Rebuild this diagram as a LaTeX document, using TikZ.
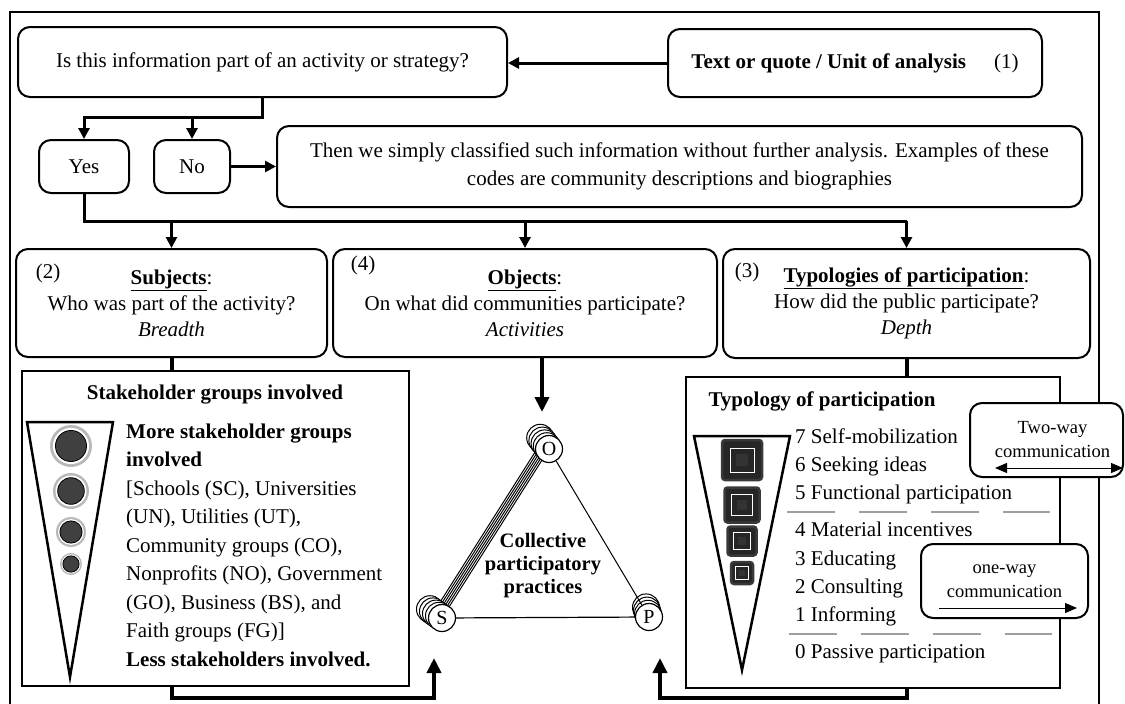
\documentclass[tikz,border=0pt]{standalone}
\usepackage{fontspec}
\setmainfont{Liberation Serif}
\usetikzlibrary{arrows.meta}

\begin{document}
\begin{tikzpicture}[x=1pt,y=-1pt,
    font=\fontsize{21}{26}\selectfont,
    roundbox/.style={draw,line width=2pt,rounded corners=12pt,fill=white,align=center,inner sep=0pt},
    plainbox/.style={draw,line width=1.2pt,fill=white,inner sep=0pt},
    commbox/.style={roundbox,font=\fontsize{18.5}{24}\selectfont},
    conn/.style={line width=3pt,-{Triangle[length=11pt,width=11pt]}},
    thickconn/.style={line width=4pt,-{Triangle[length=15pt,width=14pt]}},
    vertex/.style={circle,draw,line width=1.2pt,fill=white,minimum size=27pt,inner sep=0pt,font=\fontsize{20}{20}\selectfont},
    listtext/.style={anchor=base west,inner sep=0pt},
    level/.style={draw=gray!75,line width=1.2pt,dash pattern=on 48pt off 24pt}]
    \useasboundingbox (0,0) rectangle (1125,704);
    \draw[line width=1.5pt] (10,712) -- (10,12) -- (1099,12) -- (1099,712);

    \node[roundbox,minimum width=489pt,minimum height=70pt] (isbox) at (262.5,62) {Is this information part of an activity or strategy?};
    \node[roundbox,minimum width=374pt,minimum height=68pt] (unitbox) at (855,63) {\textbf{Text or quote / Unit of analysis}\hspace{28pt}(1)};
    \node[roundbox,minimum width=90pt,minimum height=53pt] (yes) at (84,166.5) {Yes};
    \node[roundbox,minimum width=76pt,minimum height=53pt] (no) at (192,166.5) {No};
    \node[roundbox,minimum width=805pt,minimum height=81pt,font=\fontsize{21}{28}\selectfont] (note) at (679.5,166.5)
        {Then we simply classified such information without further analysis. Examples of these\\codes are community descriptions and biographies};

    \node[roundbox,minimum width=311pt,minimum height=108pt] (subj) at (171.5,303)
        {\underline{\textbf{Subjects}}:\\Who was part of the activity?\\\textit{Breadth}};
    \node[roundbox,minimum width=384pt,minimum height=108pt] (obj) at (525,303)
        {\underline{\textbf{Objects}}:\\On what did communities participate?\\\textit{Activities}};
    \node[roundbox,minimum width=367pt,minimum height=109pt] (typq) at (906.5,303.5)
        {\underline{\textbf{Typologies of participation}}:\\How did the public participate?\\\textit{Depth}};
    \node (num2) at (48,273) {(2)};
    \node (num4) at (363,265) {(4)};
    \node (num3) at (747,272) {(3)};

    \draw[conn] (unitbox.west) -- (unitbox.west -| isbox.east);
    \coordinate (split) at (262.5,117);
    \draw[conn] (isbox.south) -- (split) -| (yes.north);
    \draw[conn] (split -| no.north) -- (no.north);
    \draw[conn] (no.east) -- (note.west);
    \coordinate (bus) at (84,221);
    \draw[line width=3pt] (yes.south) -- (bus) -- (bus -| typq.north);
    \foreach \n in {subj,obj,typq}
        \draw[conn] (bus -| \n.north) -- (\n.north);

    \node[plainbox,minimum width=387pt,minimum height=315pt] (stake) at (215.5,528.5) {};
    \node[plainbox,minimum width=374pt,minimum height=311pt] (typbox) at (873,532.5) {};
    \draw[line width=4pt] (subj.south) -- (subj.south |- stake.north);
    \draw[line width=4pt] (typq.south) -- (typq.south |- typbox.north);

    \node[anchor=base] (staketitle) at (215,399) {\textbf{Stakeholder groups involved}};
    \draw[line width=2.5pt] (27,422) -- (113,422) -- (70,677) -- cycle;
    \foreach \y/\r in {446/21,491/18,532/15,564/11} {
        \fill[gray!55] (71,\y) circle (\r);
        \fill[white] (71,\y) circle ({0.86*\r});
        \filldraw[fill=black!75,draw=black,line width=0.8pt] (71,\y) circle ({0.74*\r});
    }
    \foreach \t [count=\i from 0] in {\textbf{More stakeholder groups},\textbf{involved},{[Schools (SC), Universities},{(UN), Utilities (UT),},{Community groups (CO),},{Nonprofits (NO), Government},{(GO), Business (BS), and},{Faith groups (FG)]},\textbf{Less stakeholders involved.}}
        \node[listtext] (stake\i) at (126,{438+28.5*\i}) {\t};

    \node[anchor=base west] (typtitle) at (705,406) {\textbf{Typology of participation}};
    \draw[line width=2.5pt] (694,436) -- (790,436) -- (742,670) -- cycle;
    \foreach \y/\s in {460/40,505/35,541/29,573/22} {
        \filldraw[fill=black!85,draw=gray!45!black,line width=2.5pt,rounded corners=3pt] ({742-\s/2},{\y-\s/2}) rectangle ({742+\s/2},{\y+\s/2});
        \draw[white,line width=0.8pt] ({742-0.3*\s},{\y-0.3*\s}) rectangle ({742+0.3*\s},{\y+0.3*\s});
        \fill[gray!40!black] ({742-0.14*\s},{\y-0.14*\s}) rectangle ({742+0.14*\s},{\y+0.14*\s});
    }
    \foreach \t/\y [count=\i] in {7 Self-mobilization/443,6 Seeking ideas/471,5 Functional participation/499,4 Material incentives/536,3 Educating/565,2 Consulting/593,1 Informing/621,0 Passive participation/658}
        \node[listtext] (typ\i) at (795,\y) {\t};
    \draw[level] (787,512) -- (1050,512);
    \draw[level] (789,634) -- (1052,634);

    \node[commbox,minimum width=153pt,minimum height=74pt] (twoway) at (1046.5,440) {\hspace{12pt}Two-way\\\hspace{12pt}communication};
    \coordinate (twoL) at (995,468);
    \coordinate (twoR) at (1123,468);
    \draw[line width=1pt,{Triangle[length=12pt,width=10pt]}-{Triangle[length=12pt,width=10pt]}] (twoL) -- (twoR);
    \node[commbox,minimum width=167pt,minimum height=74pt] (oneway) at (1004.5,581) {one-way\\communication};
    \coordinate (oneL) at (939,608);
    \coordinate (oneR) at (1077,608);
    \draw[line width=1pt,-{Triangle[length=12pt,width=10pt]}] (oneL) -- (oneR);

    \foreach \k in {0,...,5}
        \draw[line width=1pt] ({442-1.7*\k},{618-1.1*\k}) -- ({549-1.7*\k},{449-1.1*\k});
    \foreach \d in {4,3,2,1} {
        \draw[line width=1pt,fill=white] ({549-2.2*\d},{449-2.8*\d}) circle (13.5);
        \draw[line width=1pt,fill=white] ({442-3*\d},{618-2.2*\d}) circle (13.5);
    }
    \foreach \d in {3,2,1}
        \draw[line width=1pt,fill=white] ({649-1*\d},{617-3.2*\d}) circle (13.5);
    \node[vertex] (nodeO) at (549,449) {O};
    \node[vertex] (nodeS) at (442,618) {S};
    \node[vertex] (nodeP) at (649,617) {P};
    \draw[line width=1pt] (nodeO) -- (nodeP);
    \draw[line width=1.2pt] (nodeS) -- (nodeP);
    \node[align=center,font=\bfseries\fontsize{20.5}{23}\selectfont] (cpp) at (543,566) {Collective\\participatory\\practices};

    \coordinate (otip) at (542,412);
    \draw[thickconn] (obj.south -| otip) -- (otip);
    \coordinate (stip) at (434,658);
    \coordinate (ptip) at (660,658);
    \draw[thickconn] (stake.south -| subj.south) -- ++(0,11) -| (stip);
    \draw[thickconn] (typbox.south -| typq.south) -- ++(0,9) -| (ptip);
\end{tikzpicture}
\end{document}
